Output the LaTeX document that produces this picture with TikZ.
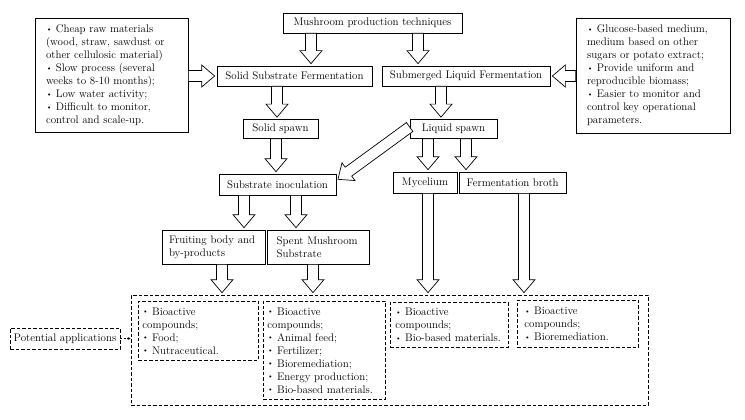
\documentclass[tikz,border=0pt]{standalone}
\usepackage{amsmath, amssymb}
\usepackage{tikz}
\usetikzlibrary{positioning, arrows.meta, calc}
\newcommand{\dotitem}{\raisebox{0.25ex}{\scriptsize\textbullet}\ }
\tikzset{
  flow/.style={
	x=1pt, y=-1pt, % pixel-like units, y grows downwards
	font=\fontsize{11}{13}\selectfont,
	box/.style={draw, line width=0.7pt, inner sep=2pt, minimum height=20pt}, % plain boxes
	info/.style={box, align=left, inner xsep=11pt}, % bullet text boxes
	app/.style={draw, dash pattern=on 3.5pt off 2pt, line width=0.7pt, align=left, inner xsep=4pt}, % dashed boxes
	hollow/.style={draw, fill=white, line width=0.7pt, line join=miter, to path={
	  let \p1=(\tikztostart), \p2=($(\tikztotarget)!2pt!(\tikztostart)$), \p3=($(\p2)!13pt!(\p1)$) in
	  ($(\p1)!5.5pt!90:(\p2)$) -- ($(\p3)!5.5pt!90:(\p2)$) -- ($(\p3)!11pt!90:(\p2)$) -- (\p2)
	  -- ($(\p3)!11pt!-90:(\p2)$) -- ($(\p3)!5.5pt!-90:(\p2)$) -- ($(\p1)!5.5pt!-90:(\p2)$) -- cycle
	}}, % block arrows
  }
}
\begin{document}
\begin{tikzpicture}[flow]
	  \useasboundingbox (0,0) rectangle (745,420);
	  \node[box, minimum width=179pt] (mpt) at (372.5,23) {Mushroom production techniques};
	  \node[box, minimum width=155pt] (ssf) at (294.5,76) {Solid Substrate Fermentation};
	  \node[box, minimum width=168pt] (slf) at (466,76) {Submerged Liquid Fermentation};
	  \node[info, text width=131pt, minimum height=114pt] (ssfinfo) at (111.5,75) {\dotitem Cheap raw materials\\(wood, straw, sawdust or\\other cellulosic material)\\\dotitem Slow process (several\\weeks to 8-10 months);\\\dotitem Low water activity;\\\dotitem Difficult to monitor,\\control and scale-up.};
	  \node[info, text width=132pt, minimum height=115pt] (slfinfo) at (653,75.5) {\dotitem Glucose-based medium,\\medium based on other\\sugars or potato extract;\\\dotitem Provide uniform and\\reproducible biomass;\\\dotitem Easier to monitor and\\control key operational\\parameters.};
	  \node[box, minimum width=75pt, minimum height=19pt] (solidsp) at (280.5,129) {Solid spawn};
	  \node[box, minimum width=87pt, minimum height=19pt] (liquidsp) at (453.5,129) {Liquid spawn};
	  \node[box, minimum width=117pt, minimum height=21pt] (subinoc) at (277.5,184.5) {Substrate inoculation};
	  \node[box, minimum width=64pt, minimum height=21pt] (myc) at (425,182.5) {Mycelium};
	  \node[box, minimum width=107pt, minimum height=21pt, right=1.5pt of myc] (broth) {Fermentation broth};
	  \node[box, align=left, text width=89pt, inner xsep=7pt, minimum height=34pt] (fruit) at (213.5,247) {Fruiting body and\\by-products};
	  \node[box, align=left, text width=84pt, inner xsep=9pt, minimum height=34pt, right=2pt of fruit] (spent) {Spent Mushroom\\Substrate};

	  % potential applications
	  \node[app, minimum width=517pt, minimum height=110pt] (apps) at (389.5,350) {};
	  \node[app, anchor=north west, text width=112pt, minimum height=59pt] (foodapp) at (138,301) {\dotitem Bioactive\\compounds;\\\dotitem Food;\\\dotitem Nutraceutical.};
	  \node[app, anchor=north west, text width=114pt, minimum height=98pt] (smsapp) at (263,301) {\dotitem Bioactive\\compounds;\\\dotitem Animal feed;\\\dotitem Fertilizer;\\\dotitem Bioremediation;\\\dotitem Energy production;\\\dotitem Bio-based materials.};
	  \node[app, anchor=north west, text width=108pt, inner xsep=5pt, minimum height=45pt] (mycapp) at (390,302) {\dotitem Bioactive\\compounds;\\\dotitem Bio-based materials.};
	  \node[app, anchor=north west, text width=107pt, inner xsep=7pt, minimum height=47pt] (brothapp) at (517,300) {\dotitem Bioactive\\compounds;\\\dotitem Bioremediation.};
	  \node[app, minimum width=110pt, minimum height=21pt, inner xsep=2pt] (pot) at (65,338.5) {Potential applications};

	  \draw   (311,0 |- mpt.south) edge[hollow] (311,0 |- ssf.north)
		  (418,0 |- mpt.south) edge[hollow] (418,0 |- slf.north)
		  (ssfinfo.east |- ssf.west) edge[hollow] (ssf.west)
		  (slfinfo.west |- slf.east) edge[hollow] (slf.east)
		  (277,0 |- ssf.south) edge[hollow] (277,0 |- solidsp.north)
		  (441,0 |- slf.south) edge[hollow] (441,0 |- liquidsp.north)
		  (276,0 |- solidsp.south) edge[hollow] (276,0 |- subinoc.north)
		  ([yshift=2pt]liquidsp.west) edge[hollow] ([yshift=4pt]subinoc.east)
		  (428,0 |- liquidsp.south) edge[hollow] (428,0 |- myc.north)
		  (466,0 |- liquidsp.south) edge[hollow] (466,0 |- broth.north)
		  (244,0 |- subinoc.south) edge[hollow] (244,0 |- fruit.north)
		  (296,0 |- subinoc.south) edge[hollow] (296,0 |- spent.north)
		  (222,0 |- fruit.south) edge[hollow] (222,0 |- apps.north)
		  (313,0 |- spent.south) edge[hollow] (313,0 |- apps.north)
		  (428,0 |- myc.south) edge[hollow] (428,0 |- apps.north)
		  (524,0 |- broth.south) edge[hollow] (524,0 |- apps.north)
	  ;
	  \draw[line width=0.7pt, dash pattern=on 2pt off 1.5pt, -{Stealth[length=3pt, width=3pt]}] (pot.east) -- (pot.east -| apps.west);
\end{tikzpicture}
\end{document}
